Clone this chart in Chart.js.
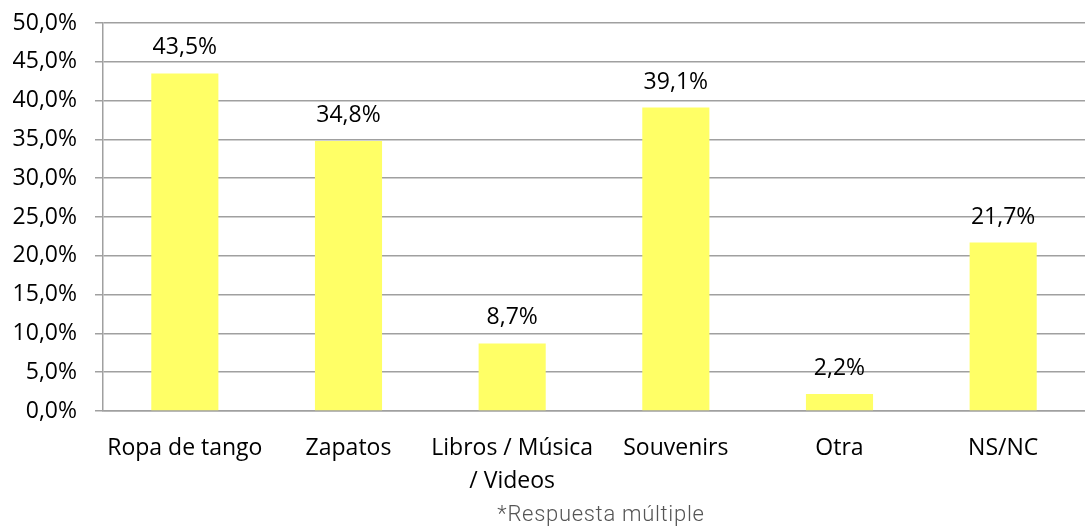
<!DOCTYPE html>
<html>
<head>
<meta charset="utf-8">
<script src="https://cdn.jsdelivr.net/npm/chart.js@4"></script>
<style>
    body { margin: 0; background: #fff; }
    #wrap { position: relative; width: 1085px; height: 526px; }
    #note {
        position: absolute;
        top: 501px;
        left: 0;
        width: 1085px;
        padding-left: 117px;
        box-sizing: border-box;
        text-align: center;
        font-family: 'Roboto', sans-serif;
        font-weight: 300;
        font-size: 22px;
        letter-spacing: 0.7px;
        color: #555;
    }
</style>
</head>
<body>
<div id="wrap">
    <canvas id="chart" width="1085" height="526"></canvas>
    <div id="note">*Respuesta múltiple</div>
</div>
<script>
const categories = [
    'Ropa de tango',
    'Zapatos',
    ['Libros / Música', '/ Videos'],
    'Souvenirs',
    'Otra',
    'NS/NC',
];
const values = [43.5, 34.8, 8.7, 39.1, 2.2, 21.7];
const yMin = 0;
const yMax = 50;
const yStep = 5;

const FONT = "'Open Sans', sans-serif";

// 43.5 -> "43,5%"
function pct(v) {
    return v.toFixed(1).replace('.', ',') + '%';
}

// value labels above each bar
const barLabels = {
    id: 'barLabels',
    afterDatasetsDraw(chart) {
        const ctx = chart.ctx;
        const meta = chart.getDatasetMeta(0);
        ctx.save();
        ctx.font = '23px ' + FONT;
        ctx.fillStyle = '#000';
        ctx.textAlign = 'center';
        ctx.textBaseline = 'alphabetic';
        meta.data.forEach((bar, i) => {
            ctx.fillText(pct(values[i]), bar.x, bar.y - 19);
        });
        ctx.restore();
    },
};

new Chart(document.getElementById('chart'), {
    type: 'bar',
    data: {
        labels: categories,
        datasets: [
            {
                data: values,
                backgroundColor: '#ffff66',
                borderWidth: 0,
                categoryPercentage: 1,
                barPercentage: 0.41,
            },
        ],
    },
    options: {
        responsive: false,
        animation: false,
        layout: { padding: { top: 23, right: 0, left: 0, bottom: 0 } },
        plugins: {
            legend: { display: false },
            tooltip: { enabled: false },
        },
        scales: {
            x: {
                grid: { display: false },
                border: { display: true, color: '#a0a0a0', width: 1.5 },
                ticks: {
                    color: '#000',
                    padding: 13,
                    maxRotation: 0,
                    autoSkip: false,
                    font: { family: FONT, size: 23, lineHeight: 1.43 },
                },
                afterFit: (scale) => {
                    scale.height = 115;
                },
            },
            y: {
                min: yMin,
                max: yMax,
                ticks: {
                    stepSize: yStep,
                    color: '#000',
                    padding: 18,
                    font: { family: FONT, size: 23 },
                    callback: (v) => pct(v),
                },
                grid: { color: '#a0a0a0', lineWidth: 1.5, tickLength: 8 },
                border: { display: true, color: '#a0a0a0', width: 1.5 },
                afterFit: (scale) => {
                    // fixed axis width, let layout padding set the top
                    scale.width = 103;
                    scale.paddingTop = 0;
                    scale.paddingBottom = 0;
                },
            },
        },
    },
    plugins: [barLabels],
});
</script>
</body>
</html>
